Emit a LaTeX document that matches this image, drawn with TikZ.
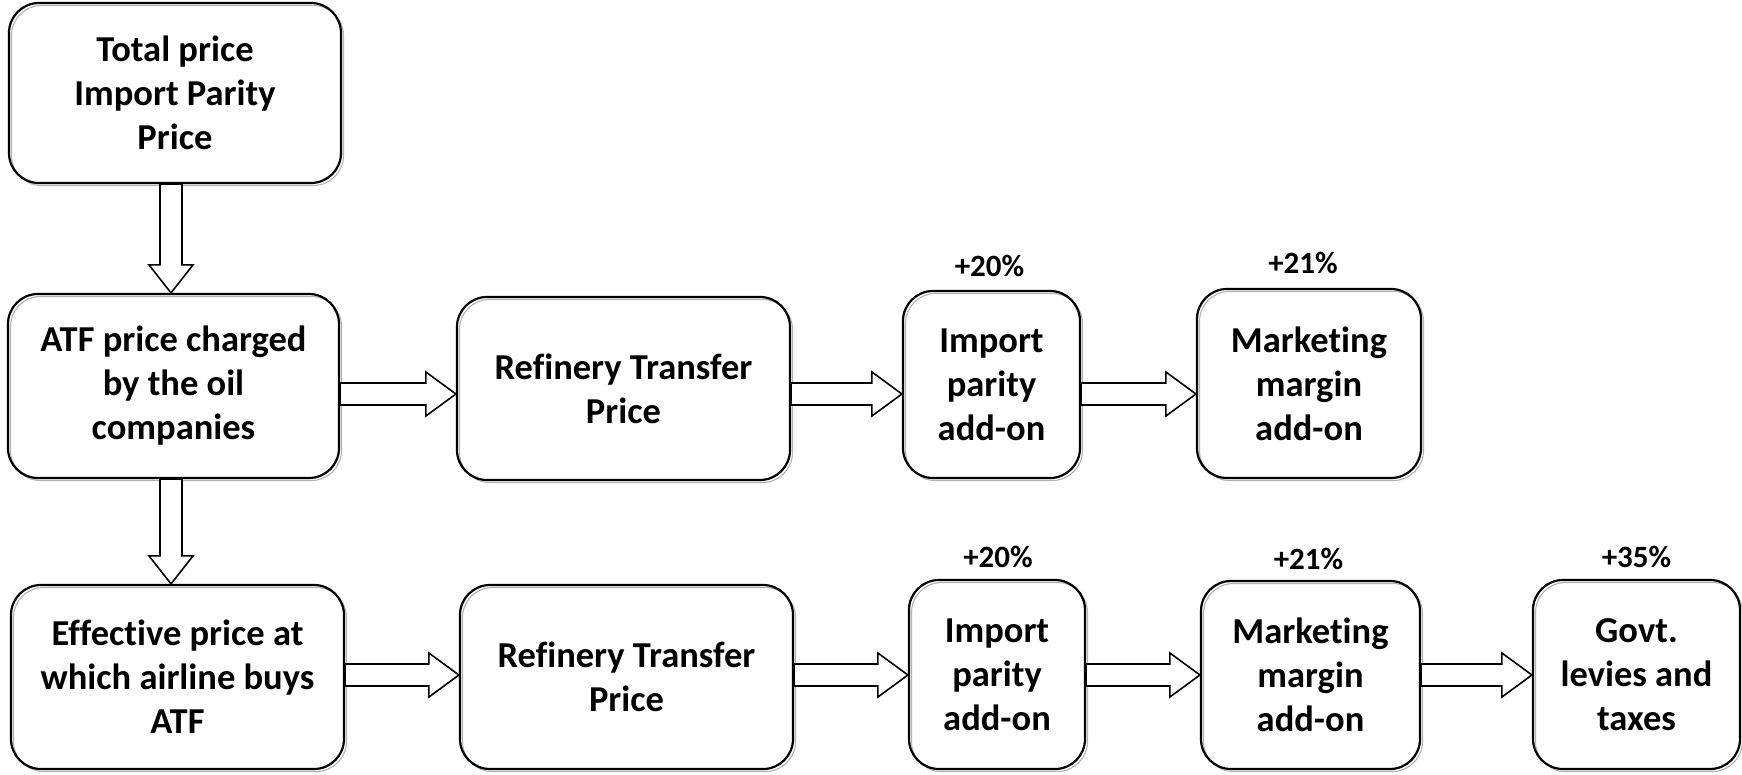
\documentclass[tikz,border=0pt]{standalone}
\usepackage{fontspec}
\setmainfont[Ligatures=NoCommon]{Carlito}
\usetikzlibrary{calc}

% block arrow pointing right, from the east side of #1 to the west side of #2, at height #3
\newcommand{\hflow}[3]{%
  \draw[flowarrow] let \p1=(#1.east), \p2=(#2.west), \p3=(0,#3) in
    (\x1,{\y3+11pt}) -- ({\x2-30pt},{\y3+11pt}) -- ({\x2-30pt},{\y3+22pt}) --
    (\x2,\y3) -- ({\x2-30pt},{\y3-22pt}) -- ({\x2-30pt},{\y3-11pt}) --
    (\x1,{\y3-11pt}) -- cycle;}
% block arrow pointing down, from the south side of #1 to the north side of #2, at column #3
\newcommand{\vflow}[3]{%
  \draw[flowarrow] let \p1=(#1.south), \p2=(#2.north), \p3=(#3,0) in
    ({\x3-11pt},\y1) -- ({\x3-11pt},{\y2+28pt}) -- ({\x3-22pt},{\y2+28pt}) --
    (\x3,\y2) -- ({\x3+22pt},{\y2+28pt}) -- ({\x3+11pt},{\y2+28pt}) --
    ({\x3+11pt},\y1) -- cycle;}

\begin{document}
\begin{tikzpicture}[x=1pt, y=-1pt,
  box/.style={draw=black, line width=2.2pt, rounded corners=30pt, align=center,
    inner sep=0pt, font=\fontsize{36.5}{44}\selectfont\bfseries,
    preaction={draw=gray!60, line width=1.1pt,
      transform canvas={shift={(2.5pt,-2.5pt)}}}},
  pct/.style={inner sep=0pt, font=\fontsize{31}{34}\selectfont\bfseries},
  flowarrow/.style={draw=black, fill=white, line width=1.6pt, line join=miter}]

\useasboundingbox (0,0) rectangle (1742,774);

% first column
\node[box, minimum width=332pt, minimum height=180pt] (A) at (175,93)
  {Total price\\Import Parity\\Price};
\node[box, minimum width=331pt, minimum height=184pt] (B) at (173.5,386)
  {ATF price charged\\by the oil\\companies};
\node[box, minimum width=333pt, minimum height=184pt] (F) at (177.5,677)
  {Effective price at\\which airline buys\\ATF};

% upper chain
\node[box, minimum width=333pt, minimum height=183pt] (C) at (623.5,388.5)
  {Refinery Transfer\\Price};
\node[box, minimum width=177pt, minimum height=187pt] (D) at (991.5,384.5)
  {Import\\parity\\add-on};
\node[box, minimum width=224pt, minimum height=189pt] (E) at (1309,383.5)
  {Marketing\\margin\\add-on};

% lower chain
\node[box, minimum width=333pt, minimum height=184pt] (G) at (626.5,677)
  {Refinery Transfer\\Price};
\node[box, minimum width=176pt, minimum height=189pt] (H) at (997,674.5)
  {Import\\parity\\add-on};
\node[box, minimum width=219pt, minimum height=188pt] (I) at (1310.5,675)
  {Marketing\\margin\\add-on};
\node[box, minimum width=207pt, minimum height=189pt] (J) at (1636.5,674.5)
  {Govt.\\levies and\\taxes};

% percentage markups
\node[pct] (pD) at ($(D.north)+(-2,-24)$) {+20\%};
\node[pct] (pE) at ($(E.north)+(-6,-25)$) {+21\%};
\node[pct] (pH) at ($(H.north)+(1,-22)$) {+20\%};
\node[pct] (pI) at ($(I.north)+(-2,-21)$) {+21\%};
\node[pct] (pJ) at ($(J.north)+(0,-22)$) {+35\%};

% flow arrows
\vflow{A}{B}{171}
\vflow{B}{F}{171}
\hflow{B}{C}{394}
\hflow{C}{D}{394}
\hflow{D}{E}{394}
\hflow{F}{G}{675}
\hflow{G}{H}{675}
\hflow{H}{I}{675}
\hflow{I}{J}{675}
\end{tikzpicture}
\end{document}
